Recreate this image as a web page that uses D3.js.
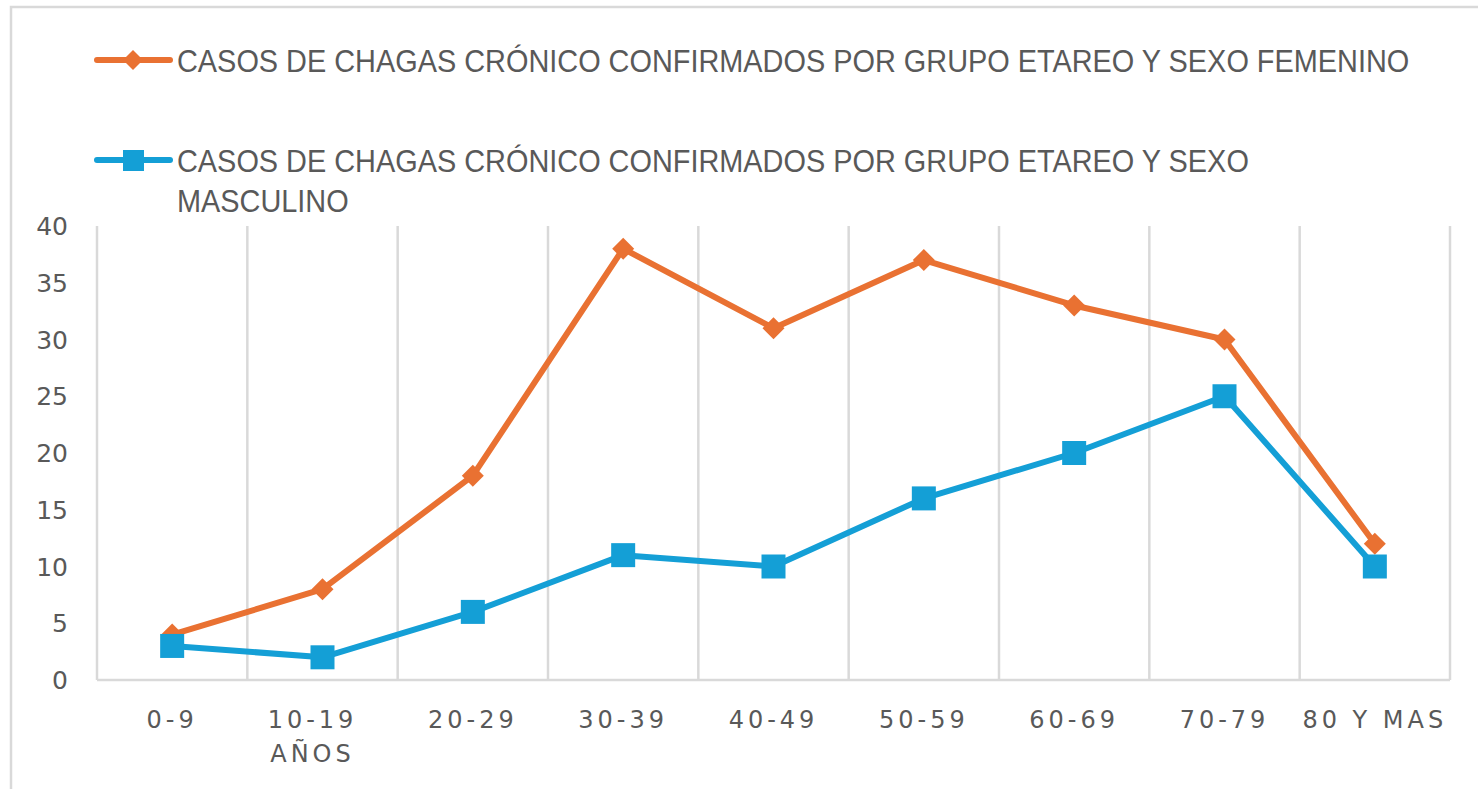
<!DOCTYPE html>
<html><head><meta charset="utf-8">
<script src="https://cdn.jsdelivr.net/npm/d3@7"></script>
<style>html,body{margin:0;padding:0;background:#fff;}svg{display:block;}</style>
</head><body>
<svg id="c" width="1478" height="789"></svg>
<script>
const categories = ["0-9", "10-19 AÑOS", "20-29", "30-39", "40-49", "50-59", "60-69", "70-79", "80 Y MAS"];
const femenino = [4, 8, 18, 38, 31, 37, 33, 30, 12];
const masculino = [3, 2, 6, 11, 10, 16, 20, 25, 10];
const yTicks = [0, 5, 10, 15, 20, 25, 30, 35, 40];
const legendFem = ["CASOS DE CHAGAS CRÓNICO CONFIRMADOS POR GRUPO ETAREO Y SEXO FEMENINO"];
const legendMas = ["CASOS DE CHAGAS CRÓNICO CONFIRMADOS POR GRUPO ETAREO Y SEXO", "MASCULINO"];

const svg = d3.select("#c");
const orange = "#E97132", blue = "#149FD6", grid = "#d9d9d9", txt = "#595959";

svg.append("rect").attr("x", 11).attr("y", 7).attr("width", 1480).attr("height", 800)
  .attr("fill", "#fff").attr("stroke", grid).attr("stroke-width", 2.5);

const L = 97, R = 1450, T = 226, B = 680;
const x = d3.scaleBand().domain(categories).range([L, R]).padding(0);
const y = d3.scaleLinear().domain([0, 40]).range([B, T]);
const cx = d => x(d) + x.bandwidth() / 2;

// vertical gridlines at band boundaries
const bounds = categories.map(c => x(c)).concat([R]);
svg.append("g").selectAll("line").data(bounds).join("line")
  .attr("x1", d => d).attr("x2", d => d).attr("y1", T).attr("y2", B)
  .attr("stroke", grid).attr("stroke-width", 2.5);
svg.append("line").attr("x1", L).attr("x2", R).attr("y1", B).attr("y2", B)
  .attr("stroke", grid).attr("stroke-width", 2.5);

// y labels
svg.append("g").selectAll("text").data(yTicks).join("text")
  .attr("x", 68).attr("y", d => y(d) + 9)
  .attr("text-anchor", "end").attr("fill", txt)
  .style("font-family", "DejaVu Sans").style("font-size", "25px")
  .text(d => d);

// x labels
const xl = svg.append("g").selectAll("text").data(categories).join("text")
  .attr("text-anchor", "middle").attr("fill", txt)
  .style("font-family", "DejaVu Sans").style("font-size", "24px").style("letter-spacing", "4px");
xl.each(function(d) {
  const wrapped = d === "10-19 AÑOS";
  const parts = wrapped ? ["10-19", "AÑOS"] : [d];
  const t = d3.select(this);
  parts.forEach((p, i) => {
    t.append("tspan").attr("x", cx(d) + (wrapped ? -10 : 0)).attr("y", 728 + i * 34).text(p);
  });
});

// lines
const line = d3.line().x((d, i) => cx(categories[i])).y(d => y(d));
svg.append("path").datum(femenino).attr("d", line).attr("fill", "none")
  .attr("stroke", orange).attr("stroke-width", 6).attr("stroke-linejoin", "round");
svg.append("path").datum(masculino).attr("d", line).attr("fill", "none")
  .attr("stroke", blue).attr("stroke-width", 6).attr("stroke-linejoin", "round");

const diamond = (px, py, r) => `M${px},${py - r}L${px + r},${py}L${px},${py + r}L${px - r},${py}Z`;
svg.append("g").selectAll("path").data(femenino).join("path")
  .attr("d", (d, i) => diamond(cx(categories[i]), y(d), 11)).attr("fill", orange);
svg.append("g").selectAll("rect").data(masculino).join("rect")
  .attr("x", (d, i) => cx(categories[i]) - 12).attr("y", d => y(d) - 12)
  .attr("width", 24).attr("height", 24).attr("fill", blue);

// legend
const lg = svg.append("g");
lg.append("line").attr("x1", 97).attr("x2", 170).attr("y1", 60).attr("y2", 60)
  .attr("stroke", orange).attr("stroke-width", 6).attr("stroke-linecap", "round");
lg.append("path").attr("d", diamond(133, 60, 10)).attr("fill", orange);
lg.append("line").attr("x1", 97).attr("x2", 170).attr("y1", 160).attr("y2", 160)
  .attr("stroke", blue).attr("stroke-width", 6).attr("stroke-linecap", "round");
lg.append("rect").attr("x", 123).attr("y", 150).attr("width", 21).attr("height", 21).attr("fill", blue);

const legLines = [[legendFem[0], 72], [legendMas[0], 172], [legendMas[1], 212]];
const lt = lg.selectAll("text.leg").data(legLines).join("text").attr("class", "leg")
  .attr("fill", txt).style("font-family", "Liberation Sans").style("font-size", "32px")
  .text(d => d[0]);
const w0 = lt.nodes()[0].getComputedTextLength();
const k = (1410 - 177) / w0;
lt.attr("transform", d => `translate(177,${d[1]}) scale(${k},1)`);
</script>
</body></html>
